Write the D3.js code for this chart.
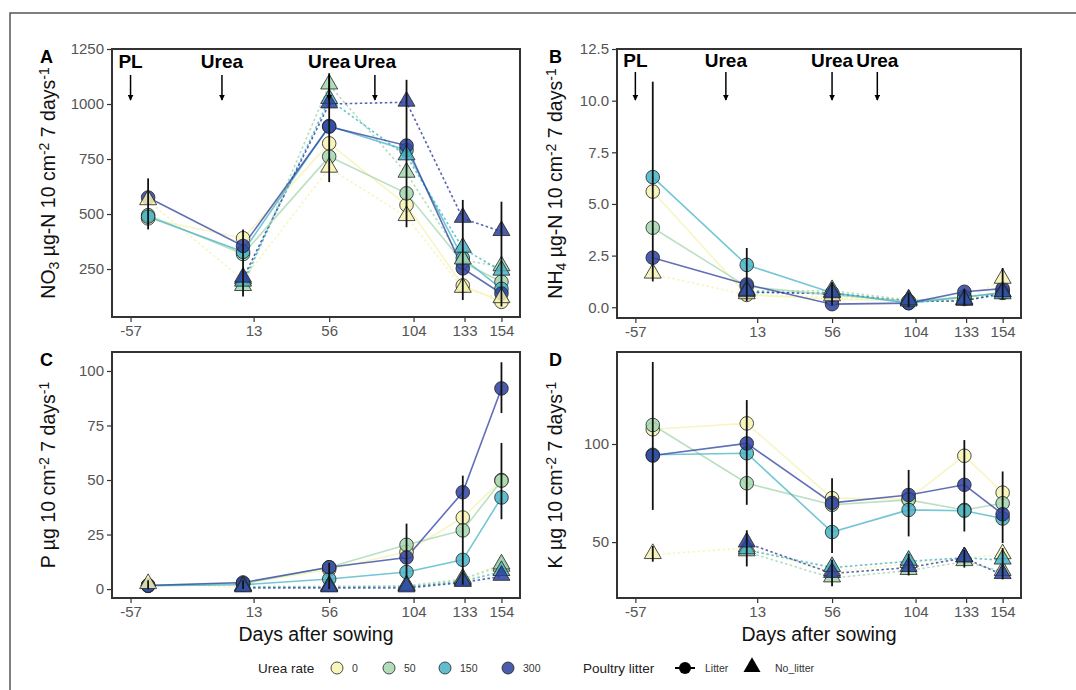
<!DOCTYPE html>
<html>
<head>
<meta charset="utf-8">
<script src="https://cdn.jsdelivr.net/npm/d3@7"></script>
<style>
  body { margin: 0; background: #fff; }
  svg { font-family: "Liberation Sans", Arial, sans-serif; }
</style>
</head>
<body>
<script>
// sampling days (points) and the labels shown on the x axis
const days = [-47, 7, 56, 100, 132, 154];
const tickDays = [-57, 13, 56, 104, 133, 154];
const rates = ["0", "50", "150", "300"];
const rateColors = ["#f6f2b0", "#a2d6ae", "#46b3c5", "#2b3f9e"];

// fertiliser events
const eventDays = [-57, -5, 56, 82];
const eventLabels = ["PL", "Urea", "Urea", "Urea"];

// NO3 (rows = urea rate 0, 50, 150, 300)
const no3Litter = [
  [480, 390, 821, 541, 175, 101],
  [495, 318, 761, 594, 280, 192],
  [488, 328, 900, 790, 300, 160],
  [575, 355, 897, 811, 253, 139]
];
const no3NoLitter = [
  [560, 200, 708, 488, 162, 115],
  [null, 170, 1086, 685, 291, 260],
  [null, 190, 1020, 764, 344, 240],
  [null, 208, 1000, 1008, 480, 420]
];
const no3Err = [[-47, 430, 662], [7, 125, 430], [56, 645, 1140], [100, 440, 1110], [132, 109, 564], [154, 80, 556]];

// NH4
const nh4Litter = [
  [5.6, 0.6, 0.4, 0.3, 0.4, 0.8],
  [3.85, 1.0, 0.6, 0.3, 0.5, 0.7],
  [6.3, 2.05, 0.7, 0.2, 0.5, 0.7],
  [2.4, 1.1, 0.15, 0.2, 0.75, 0.9]
];
const nh4NoLitter = [
  [1.6, 0.6, 0.5, 0.3, 0.3, 1.35],
  [null, 0.8, 0.8, 0.35, 0.3, 0.7],
  [null, 0.7, 0.7, 0.25, 0.35, 0.6],
  [null, 0.75, 0.65, 0.3, 0.3, 0.7]
];
const nh4Err = [[-47, 1.25, 10.92], [7, 0.3, 2.87], [56, 0.1, 1.2], [100, 0.0, 0.7], [132, 0.1, 0.9], [154, 0.4, 1.9]];

// P
const pLitter = [
  [1.5, 2.5, 9, 17, 32.8, 50],
  [1.8, 2.5, 10, 20.3, 26.9, 49.7],
  [1.5, 2.0, 4.6, 7.8, 13.4, 42],
  [1.6, 3.0, 10, 14.5, 44.4, 92]
];
const pNoLitter = [
  [2.0, 1.0, 1.0, 1.0, 4, 10],
  [null, 1.2, 1.2, 1.5, 4.5, 11],
  [null, 0.8, 0.8, 1.0, 3.5, 8],
  [null, 0.5, 0.5, 0.5, 3.0, 5.8]
];
const pErr = [[-47, 0, 4], [7, 0, 4], [56, 0, 12], [100, 5, 30], [132, 2, 52], [154, 80.7, 104], [154, 32, 67]];

// K
const kLitter = [
  [107.5, 110.5, 72.4, 72, 94, 75.2],
  [109.7, 80, 69, 71.5, 66.4, 69.8],
  [94.5, 95.3, 55.1, 66.4, 66, 62],
  [94.1, 100.3, 70, 74, 79.2, 64.2]
];
const kNoLitter = [
  [43.6, 47, 35, 39, 42, 43.5],
  [null, 45, 31.7, 35.5, 40, 35],
  [null, 46, 37, 40.2, 42, 40.8],
  [null, 49.5, 34, 37, 41.9, 33.4]
];
const kErr = [[-47, 66.4, 141.8], [-47, 40, 48], [7, 69, 122.4], [7, 37.6, 56], [56, 44.4, 82.6], [56, 27.5, 41],
  [100, 52.9, 86.8], [100, 33, 44], [132, 55.4, 102], [132, 37, 46], [154, 49.5, 86], [154, 31, 47]];

const panels = [
  { tag: "A", x0: 112, x1: 520, y0: 49, y1: 317, dom: [32, 1250], ticks: [250, 500, 750, 1000, 1250], fmt: d3.format("d"),
    litter: no3Litter, noLitter: no3NoLitter, err: no3Err, title: ["NO", "3", " µg-N 10 cm", "-2", " 7 days", "-1"],
    anno: [1163, 1132, 1018], xTitle: false },
  { tag: "B", x0: 617, x1: 1021, y0: 49, y1: 318, dom: [-0.52, 12.5], ticks: [0, 2.5, 5, 7.5, 10, 12.5], fmt: d3.format(".1f"),
    litter: nh4Litter, noLitter: nh4NoLitter, err: nh4Err, title: ["NH", "4", " µg-N 10 cm", "-2", " 7 days", "-1"],
    anno: [11.63, 11.39, 10.03], xTitle: false },
  { tag: "C", x0: 112, x1: 520, y0: 352, y1: 598, dom: [-4.1, 108.7], ticks: [0, 25, 50, 75, 100], fmt: d3.format("d"),
    litter: pLitter, noLitter: pNoLitter, err: pErr, title: ["P µg 10 cm", null, "", "-2", " 7 days", "-1"],
    anno: null, xTitle: true },
  { tag: "D", x0: 617, x1: 1021, y0: 352, y1: 598, dom: [21.5, 146.9], ticks: [50, 100], fmt: d3.format("d"),
    litter: kLitter, noLitter: kNoLitter, err: kErr, title: ["K µg 10 cm", null, "", "-2", " 7 days", "-1"],
    anno: null, xTitle: true }
];

const svg = d3.select("body").append("svg")
  .attr("width", 1076)
  .attr("height", 690);

svg.append("defs").append("marker")
  .attr("id", "arrowhead")
  .attr("viewBox", "0 0 10 10")
  .attr("refX", 9).attr("refY", 5)
  .attr("markerWidth", 4).attr("markerHeight", 4)
  .attr("orient", "auto")
  .append("path")
  .attr("d", "M0,0 L10,5 L0,10 z")
  .attr("fill", "#000");

// outer frame of the figure
svg.append("path")
  .attr("d", "M10,690 L10,13 L1076,13")
  .attr("fill", "none")
  .attr("stroke", "#555")
  .attr("stroke-width", 1.5);

const tri = d3.symbol().type(d3.symbolTriangle).size(125);

function drawPanel(p) {
  const x = d3.scaleLinear().domain([-67.55, 164.55]).range([p.x0, p.x1]);
  const y = d3.scaleLinear().domain(p.dom).range([p.y1, p.y0]);
  const g = svg.append("g");

  const xAxis = g.append("g")
    .attr("transform", "translate(0," + p.y1 + ")")
    .call(d3.axisBottom(x).tickValues(tickDays).tickSize(5).tickPadding(3).tickFormat(d => String(d)));
  const yAxis = g.append("g")
    .attr("transform", "translate(" + p.x0 + ",0)")
    .call(d3.axisLeft(y).tickValues(p.ticks).tickSize(5).tickPadding(3).tickFormat(p.fmt));
  [xAxis, yAxis].forEach(a => {
    a.select(".domain").remove();
    a.selectAll("line").attr("stroke", "#333").attr("stroke-width", 1.2);
    a.selectAll("text").attr("fill", "#555").style("font-size", "15px");
  });

  const line = d3.line()
    .defined(d => d.v != null)
    .x(d => x(d.d))
    .y(d => y(d.v));

  // No_litter: dotted lines, Litter: solid lines
  p.noLitter.forEach((vals, i) => {
    const pts = days.map((d, j) => ({ d: d, v: vals[j] })).filter(o => o.v != null);
    g.append("path").datum(pts)
      .attr("d", line)
      .attr("fill", "none")
      .attr("stroke", rateColors[i])
      .attr("stroke-opacity", 0.8)
      .attr("stroke-width", 1.6)
      .attr("stroke-dasharray", "2.5,2.5");
  });
  p.litter.forEach((vals, i) => {
    const pts = days.map((d, j) => ({ d: d, v: vals[j] }));
    g.append("path").datum(pts)
      .attr("d", line)
      .attr("fill", "none")
      .attr("stroke", rateColors[i])
      .attr("stroke-opacity", 0.75)
      .attr("stroke-width", 1.6);
  });

  p.litter.forEach((vals, i) => {
    g.selectAll(null)
      .data(days.map((d, j) => ({ d: d, v: vals[j] })))
      .enter().append("circle")
      .attr("cx", d => x(d.d))
      .attr("cy", d => y(d.v))
      .attr("r", 6.8)
      .attr("fill", rateColors[i])
      .attr("fill-opacity", 0.85)
      .attr("stroke", "#222")
      .attr("stroke-width", 0.8);
  });
  p.noLitter.forEach((vals, i) => {
    g.selectAll(null)
      .data(days.map((d, j) => ({ d: d, v: vals[j] })).filter(o => o.v != null))
      .enter().append("path")
      .attr("d", tri)
      .attr("transform", d => "translate(" + x(d.d) + "," + (y(d.v) - 1) + ")")
      .attr("fill", rateColors[i])
      .attr("fill-opacity", 0.85)
      .attr("stroke", "#222")
      .attr("stroke-width", 0.8);
  });

  // error bars
  g.selectAll(null)
    .data(p.err)
    .enter().append("line")
    .attr("x1", d => x(d[0])).attr("x2", d => x(d[0]))
    .attr("y1", d => y(d[1])).attr("y2", d => y(d[2]))
    .attr("stroke", "#111")
    .attr("stroke-width", 1.8);

  // fertiliser annotations
  if (p.anno) {
    eventDays.forEach((d, i) => {
      g.append("text")
        .attr("x", x(d))
        .attr("y", y(p.anno[0]))
        .attr("text-anchor", "middle")
        .style("font-size", "19px")
        .style("font-weight", "bold")
        .text(eventLabels[i]);
      g.append("line")
        .attr("x1", x(d)).attr("x2", x(d))
        .attr("y1", y(p.anno[1])).attr("y2", y(p.anno[2]))
        .attr("stroke", "#000")
        .attr("stroke-width", 1.5)
        .attr("marker-end", "url(#arrowhead)");
    });
  }

  g.append("rect")
    .attr("x", p.x0).attr("y", p.y0)
    .attr("width", p.x1 - p.x0).attr("height", p.y1 - p.y0)
    .attr("fill", "none")
    .attr("stroke", "#333")
    .attr("stroke-width", 2);

  // y title with sub/superscripts
  const tx = p.x0 < 300 ? 48 : 555;
  const ty = (p.y0 + p.y1) / 2;
  const t = g.append("text")
    .attr("transform", "translate(" + tx + "," + ty + ") rotate(-90)")
    .attr("text-anchor", "middle")
    .attr("dy", "0.35em")
    .style("font-size", "19.5px")
    .attr("fill", "#111");
  const parts = p.title;
  t.append("tspan").text(parts[0]);
  if (parts[1]) t.append("tspan").attr("baseline-shift", "-30%").style("font-size", "14px").text(parts[1]);
  t.append("tspan").text(parts[2]);
  t.append("tspan").attr("baseline-shift", "45%").style("font-size", "14px").text(parts[3]);
  t.append("tspan").text(parts[4]);
  t.append("tspan").attr("baseline-shift", "45%").style("font-size", "14px").text(parts[5]);

  g.append("text")
    .attr("x", p.x0 < 300 ? 40 : 549)
    .attr("y", p.y0 + 14)
    .style("font-size", "18px")
    .style("font-weight", "bold")
    .text(p.tag);

  if (p.xTitle) {
    g.append("text")
      .attr("x", (p.x0 + p.x1) / 2)
      .attr("y", 641)
      .attr("text-anchor", "middle")
      .style("font-size", "19.5px")
      .attr("fill", "#111")
      .text("Days after sowing");
  }
}

panels.forEach(drawPanel);

// legend
const leg = svg.append("g").attr("transform", "translate(0,668)");
leg.append("text").attr("x", 258).attr("y", 5).style("font-size", "13.5px").attr("fill", "#222").text("Urea rate");
const legX = [337, 389, 445, 508];
rates.forEach((r, i) => {
  leg.append("circle").attr("cx", legX[i]).attr("cy", 0).attr("r", 6)
    .attr("fill", rateColors[i]).attr("fill-opacity", 0.85)
    .attr("stroke", "#222").attr("stroke-width", 0.8);
  leg.append("text").attr("x", legX[i] + 15).attr("y", 4).style("font-size", "10.5px").attr("fill", "#333").text(r);
});
leg.append("text").attr("x", 583).attr("y", 5).style("font-size", "13.5px").attr("fill", "#222").text("Poultry litter");
leg.append("line").attr("x1", 675).attr("x2", 695).attr("y1", 0).attr("y2", 0).attr("stroke", "#000").attr("stroke-width", 2);
leg.append("circle").attr("cx", 685).attr("cy", 0).attr("r", 6).attr("fill", "#000");
leg.append("text").attr("x", 705).attr("y", 4).style("font-size", "10.5px").attr("fill", "#333").text("Litter");
leg.append("path").attr("d", tri).attr("transform", "translate(752,-1)").attr("fill", "#000");
leg.append("text").attr("x", 775).attr("y", 4).style("font-size", "10.5px").attr("fill", "#333").text("No_litter");
</script>
</body>
</html>
